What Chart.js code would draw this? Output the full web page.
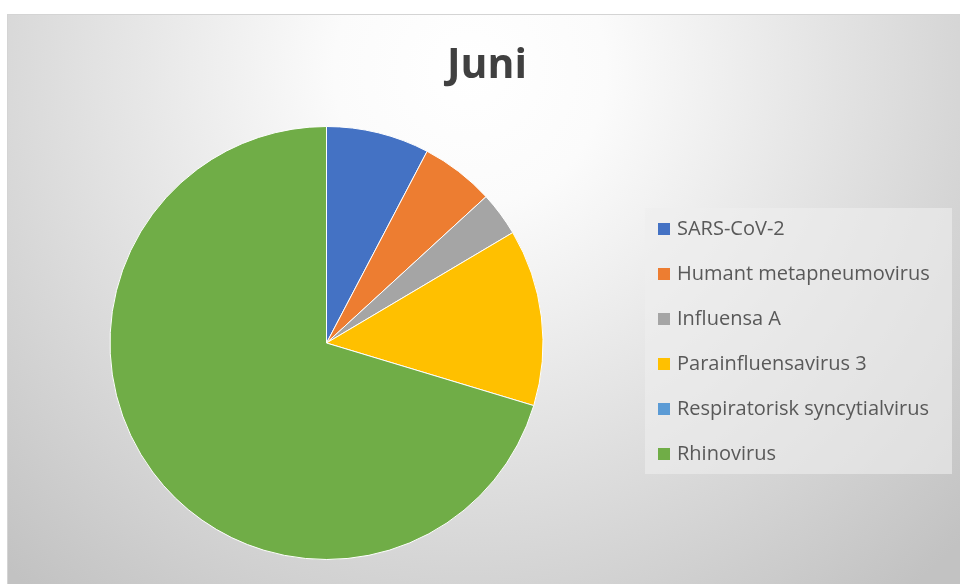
<!DOCTYPE html>
<html>
<head>
<meta charset="utf-8">
<script src="https://cdn.jsdelivr.net/npm/chart.js@4"></script>
<style>
  html, body { margin: 0; padding: 0; background: #fff; }
  #wrap { width: 960px; height: 584px; position: relative; }
</style>
</head>
<body>
<div id="wrap"><canvas id="pie"></canvas></div>
<script>
const tittel = 'Juni';
const virus = ['SARS-CoV-2', 'Humant metapneumovirus', 'Influensa A', 'Parainfluensavirus 3', 'Respiratorisk syncytialvirus', 'Rhinovirus'];
const antall = [7, 5, 3, 12, 0, 64];
const farger = ['#4472C4', '#ED7D31', '#A5A5A5', '#FFC000', '#5B9BD5', '#70AD47'];

// bakgrunn med radial gradient, som i Excel
const bakgrunn = {
  id: 'bakgrunn',
  beforeDraw(chart) {
    const c = chart.ctx;
    c.save();
    c.fillStyle = '#fff';
    c.fillRect(0, 0, chart.width, chart.height);
    const g = c.createRadialGradient(470, 70, 0, 470, 70, 680);
    g.addColorStop(0, '#ffffff');
    g.addColorStop(0.2, '#fbfbfb');
    g.addColorStop(1, '#c2c2c2');
    c.fillStyle = g;
    c.fillRect(7, 14, chart.width, chart.height);
    c.strokeStyle = '#d4d4d4';
    c.lineWidth = 1;
    c.strokeRect(7.5, 14.5, chart.width, chart.height);
    c.restore();
  }
};

// tittel og forklaring tegnet fra dataene
const tekst = {
  id: 'tekst',
  afterDraw(chart) {
    const c = chart.ctx;
    c.save();
    c.fillStyle = '#404040';
    c.font = 'bold 41px "Open Sans", sans-serif';
    c.textAlign = 'center';
    c.textBaseline = 'alphabetic';
    c.fillText(tittel, 487, 78);

    c.fillStyle = 'rgba(238,238,238,0.6)';
    c.fillRect(645, 208, 307, 266);
    c.font = '20px "Open Sans", sans-serif';
    c.textAlign = 'left';
    c.textBaseline = 'middle';
    const ds = chart.data.datasets[0];
    chart.data.labels.forEach((lab, i) => {
      const y = 229 + i * 45;
      c.fillStyle = ds.backgroundColor[i];
      c.fillRect(658, y - 6, 12, 12);
      c.fillStyle = '#595959';
      c.fillText(lab, 677, y);
    });
    c.restore();
  }
};

new Chart(document.getElementById('pie'), {
  type: 'pie',
  data: {
    labels: virus,
    datasets: [{ data: antall, backgroundColor: farger, borderColor: '#ffffff', borderWidth: 1 }]
  },
  options: {
    responsive: true,
    maintainAspectRatio: false,
    animation: false,
    layout: { padding: { left: 109, top: 126, right: 416, bottom: 24 } },
    plugins: { legend: { display: false }, tooltip: { enabled: false } }
  },
  plugins: [bakgrunn, tekst]
});
</script>
</body>
</html>
